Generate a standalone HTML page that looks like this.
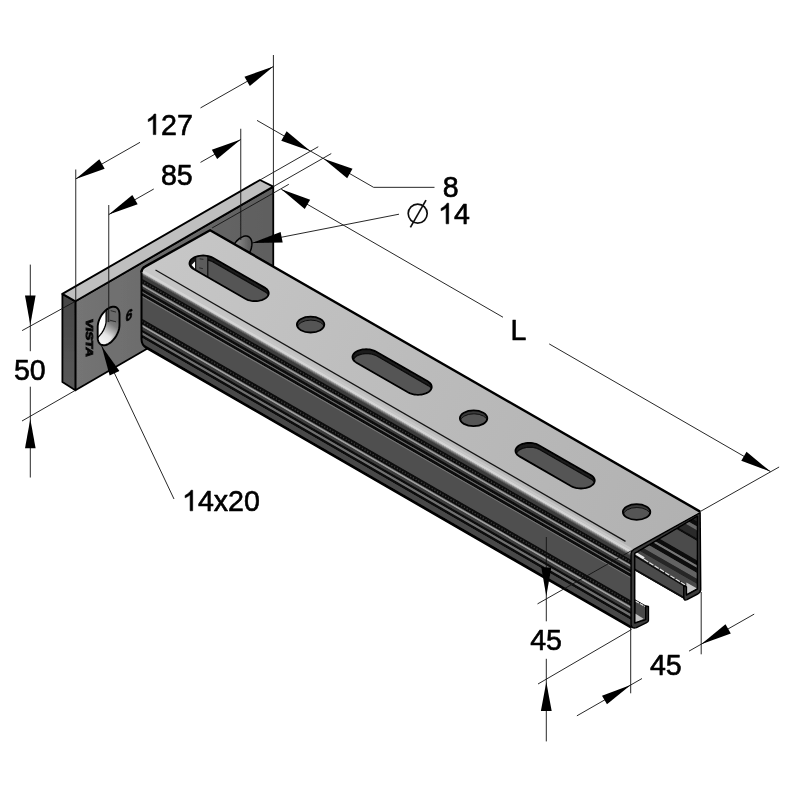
<!DOCTYPE html>
<html><head><meta charset="utf-8"><title>Bracket drawing</title>
<style>
html,body{margin:0;padding:0;background:#fff;}
body{width:800px;height:800px;overflow:hidden;}
svg{display:block;}
text{font-family:"Liberation Sans",sans-serif;fill:#000;}
.d{stroke:#000;stroke-width:0.6px;stroke-linejoin:round;}
</style></head><body>
<svg width="800" height="800" viewBox="0 0 800 800">
<rect width="800" height="800" fill="#fff"/>
<defs>
<linearGradient id="gPlateF" x1="0" y1="0" x2="1" y2="0"><stop offset="0" stop-color="#747474"/><stop offset="1" stop-color="#5e5e5e"/></linearGradient>
<linearGradient id="gPlateS" x1="0" y1="0" x2="0" y2="1"><stop offset="0" stop-color="#454545"/><stop offset="1" stop-color="#5a5a5a"/></linearGradient>
<linearGradient id="gTop" gradientUnits="userSpaceOnUse" x1="141" y1="270" x2="700" y2="512"><stop offset="0" stop-color="#c7c7c7"/><stop offset="0.5" stop-color="#bbbbbb"/><stop offset="1" stop-color="#b1b1b1"/></linearGradient>
<linearGradient id="gHole" x1="0" y1="0" x2="1" y2="1"><stop offset="0" stop-color="#ffffff"/><stop offset="0.45" stop-color="#d0d0d0"/><stop offset="1" stop-color="#4a4a4a"/></linearGradient>
<filter id="soft" x="0" y="0" width="800" height="800" filterUnits="userSpaceOnUse"><feGaussianBlur stdDeviation="0.45"/></filter></defs>
<g filter="url(#soft)">
<rect width="800" height="800" fill="#fff"/>
<polygon points="75.4,301.3 273.25,186.6 273.25,275.6 75.4,390.3" fill="url(#gPlateF)" stroke="#000" stroke-width="1.8" stroke-linejoin="round"/>
<polygon points="62.4,293.9 75.4,301.3 75.4,390.3 62.4,382.1" fill="url(#gPlateS)" stroke="#000" stroke-width="1.8" stroke-linejoin="round"/>
<polygon points="62.4,293.9 260,180 273.25,186.6 75.4,301.3" fill="#bfbfbf" stroke="#000" stroke-width="1.9" stroke-linejoin="round"/>
<linearGradient id="gH2" gradientUnits="userSpaceOnUse" x1="236" y1="240" x2="252" y2="240"><stop offset="0" stop-color="#8a8a8a"/><stop offset="1" stop-color="#565656"/></linearGradient>
<polygon points="230.09,256.27 230.19,254.59 230.47,252.83 230.92,251.03 231.56,249.2 232.35,247.39 233.29,245.62 234.36,243.93 235.55,242.35 236.83,240.89 238.18,239.59 239.58,238.47 241,237.54 242.42,236.83 243.82,236.34 245.17,236.09 246.45,236.07 247.64,236.3 248.71,236.75 249.65,237.44 250.44,238.34 251.08,239.44 251.53,240.72 251.81,242.16 251.91,243.73 251.91,243.73 251.81,245.41 251.53,247.17 251.08,248.97 250.44,250.8 249.65,252.61 248.71,254.38 247.64,256.07 246.45,257.65 245.17,259.11 243.82,260.41 242.42,261.53 241,262.46 239.58,263.17 238.18,263.66 236.83,263.91 235.55,263.93 234.36,263.7 233.29,263.25 232.35,262.56 231.56,261.66 230.92,260.56 230.47,259.28 230.19,257.84 230.09,256.27" fill="url(#gH2)" stroke="#000" stroke-width="1.5" />
<clipPath id="cH1"><polygon points="97.69,326.93 97.79,325.25 98.07,323.49 98.52,321.69 99.16,319.86 99.95,318.05 100.89,316.28 101.96,314.59 103.15,313.01 104.43,311.55 105.78,310.25 107.18,309.13 108.6,308.2 110.02,307.49 111.42,307 112.77,306.75 114.05,306.73 115.24,306.96 116.31,307.41 117.25,308.1 118.04,309 118.68,310.1 119.13,311.38 119.41,312.82 119.51,314.39 119.51,325.07 119.41,326.75 119.13,328.51 118.68,330.31 118.04,332.14 117.25,333.95 116.31,335.72 115.24,337.41 114.05,338.99 112.77,340.45 111.42,341.75 110.02,342.87 108.6,343.8 107.18,344.51 105.78,345 104.43,345.25 103.15,345.27 101.96,345.04 100.89,344.59 99.95,343.9 99.16,343 98.52,341.9 98.07,340.62 97.79,339.18 97.69,337.61"/></clipPath>
<g clip-path="url(#cH1)">
<linearGradient id="gWall" gradientUnits="userSpaceOnUse" x1="117" y1="320" x2="102" y2="341"><stop offset="0" stop-color="#6a6a6a"/><stop offset="0.25" stop-color="#7c7c7c"/><stop offset="0.7" stop-color="#e4e4e4"/><stop offset="1" stop-color="#f2f2f2"/></linearGradient>
<polygon points="97.69,326.93 97.79,325.25 98.07,323.49 98.52,321.69 99.16,319.86 99.95,318.05 100.89,316.28 101.96,314.59 103.15,313.01 104.43,311.55 105.78,310.25 107.18,309.13 108.6,308.2 110.02,307.49 111.42,307 112.77,306.75 114.05,306.73 115.24,306.96 116.31,307.41 117.25,308.1 118.04,309 118.68,310.1 119.13,311.38 119.41,312.82 119.51,314.39 119.51,325.07 119.41,326.75 119.13,328.51 118.68,330.31 118.04,332.14 117.25,333.95 116.31,335.72 115.24,337.41 114.05,338.99 112.77,340.45 111.42,341.75 110.02,342.87 108.6,343.8 107.18,344.51 105.78,345 104.43,345.25 103.15,345.27 101.96,345.04 100.89,344.59 99.95,343.9 99.16,343 98.52,341.9 98.07,340.62 97.79,339.18 97.69,337.61" fill="url(#gWall)" stroke="none" stroke-width="1" />
<linearGradient id="gWall2" gradientUnits="userSpaceOnUse" x1="104" y1="330" x2="119" y2="340"><stop offset="0" stop-color="#808080" stop-opacity="0"/><stop offset="0.55" stop-color="#808080" stop-opacity="0"/><stop offset="1" stop-color="#5c5c5c" stop-opacity="0.9"/></linearGradient>
<polygon points="97.69,326.93 97.79,325.25 98.07,323.49 98.52,321.69 99.16,319.86 99.95,318.05 100.89,316.28 101.96,314.59 103.15,313.01 104.43,311.55 105.78,310.25 107.18,309.13 108.6,308.2 110.02,307.49 111.42,307 112.77,306.75 114.05,306.73 115.24,306.96 116.31,307.41 117.25,308.1 118.04,309 118.68,310.1 119.13,311.38 119.41,312.82 119.51,314.39 119.51,325.07 119.41,326.75 119.13,328.51 118.68,330.31 118.04,332.14 117.25,333.95 116.31,335.72 115.24,337.41 114.05,338.99 112.77,340.45 111.42,341.75 110.02,342.87 108.6,343.8 107.18,344.51 105.78,345 104.43,345.25 103.15,345.27 101.96,345.04 100.89,344.59 99.95,343.9 99.16,343 98.52,341.9 98.07,340.62 97.79,339.18 97.69,337.61" fill="url(#gWall2)" stroke="none" stroke-width="1" />
<polygon points="107.8,300 125,300 125,320.5 107.8,322.2" fill="#6b6b6b" stroke="none" stroke-width="1" />
<line x1="108" y1="306" x2="108" y2="322" stroke="#3c3c3c" stroke-width="1.2" />
<line x1="110.6" y1="310.6" x2="116" y2="312.1" stroke="#222" stroke-width="0.9" />
<line x1="109.8" y1="320.2" x2="116" y2="321.8" stroke="#222" stroke-width="0.9" />
<polygon points="84.29,322.33 84.39,320.65 84.67,318.89 85.12,317.09 85.76,315.26 86.55,313.45 87.49,311.68 88.56,309.99 89.75,308.41 91.03,306.95 92.38,305.65 93.78,304.53 95.2,303.6 96.62,302.89 98.02,302.4 99.37,302.15 100.65,302.13 101.84,302.36 102.91,302.81 103.85,303.5 104.64,304.4 105.28,305.5 105.73,306.78 106.01,308.22 106.11,309.79 106.11,320.47 106.01,322.15 105.73,323.91 105.28,325.71 104.64,327.54 103.85,329.35 102.91,331.12 101.84,332.81 100.65,334.39 99.37,335.85 98.02,337.15 96.62,338.27 95.2,339.2 93.78,339.91 92.38,340.4 91.03,340.65 89.75,340.67 88.56,340.44 87.49,339.99 86.55,339.3 85.76,338.4 85.12,337.3 84.67,336.02 84.39,334.58 84.29,333.01" fill="#ffffff" stroke="#000" stroke-width="1.3" />
</g>
<polygon points="97.69,326.93 97.79,325.25 98.07,323.49 98.52,321.69 99.16,319.86 99.95,318.05 100.89,316.28 101.96,314.59 103.15,313.01 104.43,311.55 105.78,310.25 107.18,309.13 108.6,308.2 110.02,307.49 111.42,307 112.77,306.75 114.05,306.73 115.24,306.96 116.31,307.41 117.25,308.1 118.04,309 118.68,310.1 119.13,311.38 119.41,312.82 119.51,314.39 119.51,325.07 119.41,326.75 119.13,328.51 118.68,330.31 118.04,332.14 117.25,333.95 116.31,335.72 115.24,337.41 114.05,338.99 112.77,340.45 111.42,341.75 110.02,342.87 108.6,343.8 107.18,344.51 105.78,345 104.43,345.25 103.15,345.27 101.96,345.04 100.89,344.59 99.95,343.9 99.16,343 98.52,341.9 98.07,340.62 97.79,339.18 97.69,337.61" fill="none" stroke="#000" stroke-width="1.9" />
<g transform="matrix(0 1.0 -1.0 -0.15 86.0 318.5)"><text x="0" y="0" font-size="10" font-weight="bold" fill="#0a0a0a" stroke="#0a0a0a" stroke-width="0.9" textLength="38" lengthAdjust="spacingAndGlyphs">VISTA</text></g>
<g transform="matrix(0.866 -0.5 0 1 125.6 322)"><text x="0" y="0" font-size="14" font-weight="bold" font-style="italic" fill="#0a0a0a" stroke="#0a0a0a" stroke-width="0.7">6</text></g>
<clipPath id="cInt"><polygon points="634.7,552.8 697.5,516.2 697.5,590.5 685,599.5 634.7,570.58"/></clipPath>
<g clip-path="url(#cInt)">
<polygon points="634.7,552.8 697.5,516.2 697.5,590.5 685,599.5 634.7,570.58" fill="#3c3c3c" stroke="none" stroke-width="1" />
<polygon points="600,458.14 720,527.14 720,534.74 600,465.74" fill="#262626" stroke="none" stroke-width="1" />
<polygon points="600,465.74 720,534.74 720,539.74 600,470.74" fill="#0a0a0a" stroke="none" stroke-width="1" />
<polygon points="600,470.74 720,539.74 720,543.54 600,474.54" fill="#686868" stroke="none" stroke-width="1" />
<polygon points="600,474.54 720,543.54 720,551.64 600,482.64" fill="#2a2a2a" stroke="none" stroke-width="1" />
<polygon points="600,482.64 720,551.64 720,554.14 600,485.14" fill="#0a0a0a" stroke="none" stroke-width="1" />
<polygon points="600,485.14 720,554.14 720,573.54 600,504.54" fill="#4b4b4b" stroke="none" stroke-width="1" />
<polygon points="600,504.54 720,573.54 720,578.54 600,509.54" fill="#0a0a0a" stroke="none" stroke-width="1" />
<polygon points="600,509.54 720,578.54 720,581.04 600,512.04" fill="#787878" stroke="none" stroke-width="1" />
<polygon points="600,512.04 720,581.04 720,586.04 600,517.04" fill="#0c0c0c" stroke="none" stroke-width="1" />
<polygon points="600,517.04 720,586.04 720,592.14 600,523.14" fill="#646464" stroke="none" stroke-width="1" />
<polygon points="600,523.14 720,592.14 720,597.14 600,528.14" fill="#262626" stroke="none" stroke-width="1" />
<polygon points="600,528.14 720,597.14 720,603.64 600,534.64" fill="#4a4a4a" stroke="none" stroke-width="1" />
<polygon points="600,534.64 720,603.64 720,624.14 600,555.14" fill="#2a2a2a" stroke="none" stroke-width="1" />
<polygon points="630,553.08 685,586.5 685,599.5 630,567.88" fill="#4c4c4c" stroke="none" stroke-width="1" />
<line x1="630" y1="549.88" x2="644" y2="558.32" stroke="#e8e8e8" stroke-width="2.6" />
<line x1="644" y1="559.32" x2="685" y2="584.9" stroke="#dcdcdc" stroke-width="1.3" stroke-dasharray="5 1.2"/>
<line x1="630" y1="552.88" x2="685" y2="586.5" stroke="#0a0a0a" stroke-width="1.4" />
<polygon points="630,565.67 685,597.3 685,599.5 630,567.88" fill="#0a0a0a" stroke="none" stroke-width="1" />
</g>
<clipPath id="cSide"><path d="M141.5 268.6 L631.5 550 L631.5 628 L145.5 347.5 Q141.5 344.2 141.5 339.2 Z"/></clipPath>
<g clip-path="url(#cSide)">
<polygon points="141.5,267.64 631.5,549 631.5,630 141.5,347.16" fill="#4c4c4c" stroke="none" stroke-width="1" />
<polygon points="141.5,267.64 631.5,549 631.5,551.2 141.5,269.8" fill="#cecece" stroke="none" stroke-width="1" />
<polygon points="141.5,269.8 631.5,551.2 631.5,553.4 141.5,271.96" fill="#d6d6d6" stroke="none" stroke-width="1" />
<polygon points="141.5,271.96 631.5,553.4 631.5,554.4 141.5,272.94" fill="#b4b4b4" stroke="none" stroke-width="1" />
<polygon points="141.5,272.94 631.5,554.4 631.5,555.4 141.5,273.92" fill="#868686" stroke="none" stroke-width="1" />
<polygon points="141.5,273.92 631.5,555.4 631.5,556.4 141.5,274.9" fill="#5c5c5c" stroke="none" stroke-width="1" />
<polygon points="141.5,274.9 631.5,556.4 631.5,560 141.5,278.44" fill="#3c3c3c" stroke="none" stroke-width="1" />
<polygon points="141.5,278.44 631.5,560 631.5,565 141.5,283.35" fill="#080808" stroke="none" stroke-width="1" />
<polygon points="141.5,283.35 631.5,565 631.5,565.6 141.5,283.93" fill="#444444" stroke="none" stroke-width="1" />
<polygon points="141.5,283.93 631.5,565.6 631.5,567.6 141.5,285.9" fill="#9a9a9a" stroke="none" stroke-width="1" />
<polygon points="141.5,285.9 631.5,567.6 631.5,570 141.5,288.25" fill="#3a3a3a" stroke="none" stroke-width="1" />
<polygon points="141.5,288.25 631.5,570 631.5,573 141.5,291.2" fill="#0a0a0a" stroke="none" stroke-width="1" />
<polygon points="141.5,291.2 631.5,573 631.5,574.3 141.5,292.48" fill="#6a6a6a" stroke="none" stroke-width="1" />
<polygon points="141.5,292.48 631.5,574.3 631.5,577.4 141.5,295.52" fill="#080808" stroke="none" stroke-width="1" />
<polygon points="141.5,295.52 631.5,577.4 631.5,578.8 141.5,296.89" fill="#767676" stroke="none" stroke-width="1" />
<polygon points="141.5,296.89 631.5,578.8 631.5,600.7 141.5,318.4" fill="#505050" stroke="none" stroke-width="1" />
<polygon points="141.5,318.4 631.5,600.7 631.5,606.3 141.5,323.89" fill="#080808" stroke="none" stroke-width="1" />
<polygon points="141.5,323.89 631.5,606.3 631.5,607 141.5,324.58" fill="#444444" stroke="none" stroke-width="1" />
<polygon points="141.5,324.58 631.5,607 631.5,609 141.5,326.55" fill="#a0a0a0" stroke="none" stroke-width="1" />
<polygon points="141.5,326.55 631.5,609 631.5,611.9 141.5,329.39" fill="#3c3c3c" stroke="none" stroke-width="1" />
<polygon points="141.5,329.39 631.5,611.9 631.5,614.6 141.5,332.04" fill="#0a0a0a" stroke="none" stroke-width="1" />
<polygon points="141.5,332.04 631.5,614.6 631.5,617.2 141.5,334.6" fill="#707070" stroke="none" stroke-width="1" />
<polygon points="141.5,334.6 631.5,617.2 631.5,620.2 141.5,337.54" fill="#0a0a0a" stroke="none" stroke-width="1" />
<polygon points="141.5,337.54 631.5,620.2 631.5,626 141.5,343.24" fill="#4a4a4a" stroke="none" stroke-width="1" />
<polygon points="141.5,343.24 631.5,626 631.5,631 141.5,348.15" fill="#000" stroke="none" stroke-width="1" />
<line x1="141.5" y1="280.99" x2="631.5" y2="562.6" stroke="#3a3a3a" stroke-width="1.6" stroke-dasharray="1.4 1.7"/>
<line x1="141.5" y1="321.24" x2="631.5" y2="603.6" stroke="#3a3a3a" stroke-width="1.6" stroke-dasharray="1.4 1.7"/>
</g>
<path d="M141.5 270.6 L141.5 339.2 Q141.5 344.7 146.5 348.07 L631.5 628" fill="none" stroke="#000" stroke-width="2.0" stroke-linejoin="round"/>
<path d="M141.5 272.6 Q141.5 268.4 145.5 266.4 L210.1 230.2 L700.1 511.6 L631.5 551 Z" fill="url(#gTop)" stroke="none" stroke-width="1" />
<polygon points="141.5,269.1 631.5,550.5 631.5,553.2 141.5,271.8" fill="#d4d4d4" stroke="none" stroke-width="1" />
<polygon points="143.5,267.75 631.5,548 631.5,550.5 143.5,270.25" fill="#c6c6c6" stroke="none" stroke-width="1" />
<line x1="155.5" y1="269.94" x2="625.5" y2="541.35" stroke="#151515" stroke-width="1.3" />
<path d="M141.5 272.6 Q141.5 268.4 145.5 266.4 L210.1 230.2 L700.1 511.6" fill="none" stroke="#000" stroke-width="2.4" stroke-linejoin="round"/>
<clipPath id="cs1"><polygon points="212.9,257.82 211.55,257.14 210.06,256.57 208.45,256.11 206.75,255.78 204.99,255.58 203.2,255.51 201.41,255.58 199.65,255.78 197.95,256.11 196.34,256.57 194.85,257.14 193.5,257.82 192.32,258.6 191.32,259.46 190.53,260.38 189.95,261.36 189.6,262.37 189.48,263.4 189.6,264.43 189.95,265.44 190.53,266.42 191.32,267.34 192.32,268.2 193.5,268.98 245.3,298.78 246.65,299.46 248.14,300.03 249.75,300.49 251.45,300.82 253.21,301.02 255,301.09 256.79,301.02 258.55,300.82 260.25,300.49 261.86,300.03 263.35,299.46 264.7,298.78 265.88,298 266.88,297.14 267.67,296.22 268.25,295.24 268.6,294.23 268.72,293.2 268.6,292.17 268.25,291.16 267.67,290.18 266.88,289.26 265.88,288.4 264.7,287.62"/></clipPath>
<polygon points="212.9,257.82 211.55,257.14 210.06,256.57 208.45,256.11 206.75,255.78 204.99,255.58 203.2,255.51 201.41,255.58 199.65,255.78 197.95,256.11 196.34,256.57 194.85,257.14 193.5,257.82 192.32,258.6 191.32,259.46 190.53,260.38 189.95,261.36 189.6,262.37 189.48,263.4 189.6,264.43 189.95,265.44 190.53,266.42 191.32,267.34 192.32,268.2 193.5,268.98 245.3,298.78 246.65,299.46 248.14,300.03 249.75,300.49 251.45,300.82 253.21,301.02 255,301.09 256.79,301.02 258.55,300.82 260.25,300.49 261.86,300.03 263.35,299.46 264.7,298.78 265.88,298 266.88,297.14 267.67,296.22 268.25,295.24 268.6,294.23 268.72,293.2 268.6,292.17 268.25,291.16 267.67,290.18 266.88,289.26 265.88,288.4 264.7,287.62" fill="#555555" stroke="none" stroke-width="1" />
<g clip-path="url(#cs1)">
<polygon points="212.9,257.82 211.55,257.14 210.06,256.57 208.45,256.11 206.75,255.78 204.99,255.58 203.2,255.51 201.41,255.58 199.65,255.78 197.95,256.11 196.34,256.57 194.85,257.14 193.5,257.82 192.32,258.6 191.32,259.46 190.53,260.38 189.95,261.36 189.6,262.37 189.48,263.4 189.6,264.43 189.95,265.44 190.53,266.42 191.32,267.34 192.32,268.2 193.5,268.98 245.3,298.78 246.65,299.46 248.14,300.03 249.75,300.49 251.45,300.82 253.21,301.02 255,301.09 256.79,301.02 258.55,300.82 260.25,300.49 261.86,300.03 263.35,299.46 264.7,298.78 265.88,298 266.88,297.14 267.67,296.22 268.25,295.24 268.6,294.23 268.72,293.2 268.6,292.17 268.25,291.16 267.67,290.18 266.88,289.26 265.88,288.4 264.7,287.62" fill="#1c1c1c" stroke="none" stroke-width="1" />
<polygon points="213.5,262.12 212.15,261.44 210.66,260.87 209.05,260.41 207.35,260.08 205.59,259.88 203.8,259.81 202.01,259.88 200.25,260.08 198.55,260.41 196.94,260.87 195.45,261.44 194.1,262.12 192.92,262.9 191.92,263.76 191.13,264.68 190.55,265.66 190.2,266.67 190.08,267.7 190.2,268.73 190.55,269.74 191.13,270.72 191.92,271.64 192.92,272.5 194.1,273.28 245.9,303.08 247.25,303.76 248.74,304.33 250.35,304.79 252.05,305.12 253.81,305.32 255.6,305.39 257.39,305.32 259.15,305.12 260.85,304.79 262.46,304.33 263.95,303.76 265.3,303.08 266.48,302.3 267.48,301.44 268.27,300.52 268.85,299.54 269.2,298.53 269.32,297.5 269.2,296.47 268.85,295.46 268.27,294.48 267.48,293.56 266.48,292.7 265.3,291.92" fill="#555555" stroke="#0a0a0a" stroke-width="1.2" />
<polygon points="185.2,251.4 195.7,251.4 195.7,273.4 185.2,273.4" fill="#181818" stroke="none" stroke-width="1" />
<polygon points="191.6,265 195.2,261.2 195.2,269" fill="#fff" stroke="none" stroke-width="1" />
<polygon points="195.7,253.4 207.8,250.4 207.8,277.4 195.7,269.9" fill="#5c5c5c" stroke="#0a0a0a" stroke-width="1.1" />
<line x1="199.7" y1="258.8" x2="203.4" y2="259.4" stroke="#222" stroke-width="0.9" />
<line x1="199.2" y1="267.8" x2="202.8" y2="268.6" stroke="#222" stroke-width="0.9" />
</g>
<polygon points="212.9,257.82 211.55,257.14 210.06,256.57 208.45,256.11 206.75,255.78 204.99,255.58 203.2,255.51 201.41,255.58 199.65,255.78 197.95,256.11 196.34,256.57 194.85,257.14 193.5,257.82 192.32,258.6 191.32,259.46 190.53,260.38 189.95,261.36 189.6,262.37 189.48,263.4 189.6,264.43 189.95,265.44 190.53,266.42 191.32,267.34 192.32,268.2 193.5,268.98 245.3,298.78 246.65,299.46 248.14,300.03 249.75,300.49 251.45,300.82 253.21,301.02 255,301.09 256.79,301.02 258.55,300.82 260.25,300.49 261.86,300.03 263.35,299.46 264.7,298.78 265.88,298 266.88,297.14 267.67,296.22 268.25,295.24 268.6,294.23 268.72,293.2 268.6,292.17 268.25,291.16 267.67,290.18 266.88,289.26 265.88,288.4 264.7,287.62" fill="none" stroke="#000" stroke-width="1.8" />
<clipPath id="cs2"><ellipse cx="310.6" cy="324.6" rx="13.72" ry="7.89"/></clipPath>
<ellipse cx="310.6" cy="324.6" rx="13.72" ry="7.89" fill="#3a3a3a"/>
<g clip-path="url(#cs2)"><ellipse cx="310.9" cy="328" rx="13.72" ry="7.89" fill="#555" stroke="#111" stroke-width="1"/></g>
<ellipse cx="310.6" cy="324.6" rx="13.72" ry="7.89" fill="none" stroke="#000" stroke-width="1.8"/>
<clipPath id="cs3"><polygon points="375.9,351.52 374.55,350.84 373.06,350.27 371.45,349.81 369.75,349.48 367.99,349.28 366.2,349.21 364.41,349.28 362.65,349.48 360.95,349.81 359.34,350.27 357.85,350.84 356.5,351.52 355.32,352.3 354.32,353.16 353.53,354.08 352.95,355.06 352.6,356.07 352.48,357.1 352.6,358.13 352.95,359.14 353.53,360.12 354.32,361.04 355.32,361.9 356.5,362.68 408.3,392.48 409.65,393.16 411.14,393.73 412.75,394.19 414.45,394.52 416.21,394.72 418,394.79 419.79,394.72 421.55,394.52 423.25,394.19 424.86,393.73 426.35,393.16 427.7,392.48 428.88,391.7 429.88,390.84 430.67,389.92 431.25,388.94 431.6,387.93 431.72,386.9 431.6,385.87 431.25,384.86 430.67,383.88 429.88,382.96 428.88,382.1 427.7,381.32"/></clipPath>
<polygon points="375.9,351.52 374.55,350.84 373.06,350.27 371.45,349.81 369.75,349.48 367.99,349.28 366.2,349.21 364.41,349.28 362.65,349.48 360.95,349.81 359.34,350.27 357.85,350.84 356.5,351.52 355.32,352.3 354.32,353.16 353.53,354.08 352.95,355.06 352.6,356.07 352.48,357.1 352.6,358.13 352.95,359.14 353.53,360.12 354.32,361.04 355.32,361.9 356.5,362.68 408.3,392.48 409.65,393.16 411.14,393.73 412.75,394.19 414.45,394.52 416.21,394.72 418,394.79 419.79,394.72 421.55,394.52 423.25,394.19 424.86,393.73 426.35,393.16 427.7,392.48 428.88,391.7 429.88,390.84 430.67,389.92 431.25,388.94 431.6,387.93 431.72,386.9 431.6,385.87 431.25,384.86 430.67,383.88 429.88,382.96 428.88,382.1 427.7,381.32" fill="#555555" stroke="none" stroke-width="1" />
<g clip-path="url(#cs3)">
<polygon points="375.9,351.52 374.55,350.84 373.06,350.27 371.45,349.81 369.75,349.48 367.99,349.28 366.2,349.21 364.41,349.28 362.65,349.48 360.95,349.81 359.34,350.27 357.85,350.84 356.5,351.52 355.32,352.3 354.32,353.16 353.53,354.08 352.95,355.06 352.6,356.07 352.48,357.1 352.6,358.13 352.95,359.14 353.53,360.12 354.32,361.04 355.32,361.9 356.5,362.68 408.3,392.48 409.65,393.16 411.14,393.73 412.75,394.19 414.45,394.52 416.21,394.72 418,394.79 419.79,394.72 421.55,394.52 423.25,394.19 424.86,393.73 426.35,393.16 427.7,392.48 428.88,391.7 429.88,390.84 430.67,389.92 431.25,388.94 431.6,387.93 431.72,386.9 431.6,385.87 431.25,384.86 430.67,383.88 429.88,382.96 428.88,382.1 427.7,381.32" fill="#1c1c1c" stroke="none" stroke-width="1" />
<polygon points="376.5,355.82 375.15,355.14 373.66,354.57 372.05,354.11 370.35,353.78 368.59,353.58 366.8,353.51 365.01,353.58 363.25,353.78 361.55,354.11 359.94,354.57 358.45,355.14 357.1,355.82 355.92,356.6 354.92,357.46 354.13,358.38 353.55,359.36 353.2,360.37 353.08,361.4 353.2,362.43 353.55,363.44 354.13,364.42 354.92,365.34 355.92,366.2 357.1,366.98 408.9,396.78 410.25,397.46 411.74,398.03 413.35,398.49 415.05,398.82 416.81,399.02 418.6,399.09 420.39,399.02 422.15,398.82 423.85,398.49 425.46,398.03 426.95,397.46 428.3,396.78 429.48,396 430.48,395.14 431.27,394.22 431.85,393.24 432.2,392.23 432.32,391.2 432.2,390.17 431.85,389.16 431.27,388.18 430.48,387.26 429.48,386.4 428.3,385.62" fill="#555555" stroke="#0a0a0a" stroke-width="1.2" />
</g>
<polygon points="375.9,351.52 374.55,350.84 373.06,350.27 371.45,349.81 369.75,349.48 367.99,349.28 366.2,349.21 364.41,349.28 362.65,349.48 360.95,349.81 359.34,350.27 357.85,350.84 356.5,351.52 355.32,352.3 354.32,353.16 353.53,354.08 352.95,355.06 352.6,356.07 352.48,357.1 352.6,358.13 352.95,359.14 353.53,360.12 354.32,361.04 355.32,361.9 356.5,362.68 408.3,392.48 409.65,393.16 411.14,393.73 412.75,394.19 414.45,394.52 416.21,394.72 418,394.79 419.79,394.72 421.55,394.52 423.25,394.19 424.86,393.73 426.35,393.16 427.7,392.48 428.88,391.7 429.88,390.84 430.67,389.92 431.25,388.94 431.6,387.93 431.72,386.9 431.6,385.87 431.25,384.86 430.67,383.88 429.88,382.96 428.88,382.1 427.7,381.32" fill="none" stroke="#000" stroke-width="1.8" />
<clipPath id="cs4"><ellipse cx="473.6" cy="418.3" rx="13.72" ry="7.89"/></clipPath>
<ellipse cx="473.6" cy="418.3" rx="13.72" ry="7.89" fill="#3a3a3a"/>
<g clip-path="url(#cs4)"><ellipse cx="473.9" cy="421.7" rx="13.72" ry="7.89" fill="#555" stroke="#111" stroke-width="1"/></g>
<ellipse cx="473.6" cy="418.3" rx="13.72" ry="7.89" fill="none" stroke="#000" stroke-width="1.8"/>
<clipPath id="cs5"><polygon points="538.9,445.22 537.55,444.54 536.06,443.97 534.45,443.51 532.75,443.18 530.99,442.98 529.2,442.91 527.41,442.98 525.65,443.18 523.95,443.51 522.34,443.97 520.85,444.54 519.5,445.22 518.32,446 517.32,446.86 516.53,447.78 515.95,448.76 515.6,449.77 515.48,450.8 515.6,451.83 515.95,452.84 516.53,453.82 517.32,454.74 518.32,455.6 519.5,456.38 571.3,486.18 572.65,486.86 574.14,487.43 575.75,487.89 577.45,488.22 579.21,488.42 581,488.49 582.79,488.42 584.55,488.22 586.25,487.89 587.86,487.43 589.35,486.86 590.7,486.18 591.88,485.4 592.88,484.54 593.67,483.62 594.25,482.64 594.6,481.63 594.72,480.6 594.6,479.57 594.25,478.56 593.67,477.58 592.88,476.66 591.88,475.8 590.7,475.02"/></clipPath>
<polygon points="538.9,445.22 537.55,444.54 536.06,443.97 534.45,443.51 532.75,443.18 530.99,442.98 529.2,442.91 527.41,442.98 525.65,443.18 523.95,443.51 522.34,443.97 520.85,444.54 519.5,445.22 518.32,446 517.32,446.86 516.53,447.78 515.95,448.76 515.6,449.77 515.48,450.8 515.6,451.83 515.95,452.84 516.53,453.82 517.32,454.74 518.32,455.6 519.5,456.38 571.3,486.18 572.65,486.86 574.14,487.43 575.75,487.89 577.45,488.22 579.21,488.42 581,488.49 582.79,488.42 584.55,488.22 586.25,487.89 587.86,487.43 589.35,486.86 590.7,486.18 591.88,485.4 592.88,484.54 593.67,483.62 594.25,482.64 594.6,481.63 594.72,480.6 594.6,479.57 594.25,478.56 593.67,477.58 592.88,476.66 591.88,475.8 590.7,475.02" fill="#555555" stroke="none" stroke-width="1" />
<g clip-path="url(#cs5)">
<polygon points="538.9,445.22 537.55,444.54 536.06,443.97 534.45,443.51 532.75,443.18 530.99,442.98 529.2,442.91 527.41,442.98 525.65,443.18 523.95,443.51 522.34,443.97 520.85,444.54 519.5,445.22 518.32,446 517.32,446.86 516.53,447.78 515.95,448.76 515.6,449.77 515.48,450.8 515.6,451.83 515.95,452.84 516.53,453.82 517.32,454.74 518.32,455.6 519.5,456.38 571.3,486.18 572.65,486.86 574.14,487.43 575.75,487.89 577.45,488.22 579.21,488.42 581,488.49 582.79,488.42 584.55,488.22 586.25,487.89 587.86,487.43 589.35,486.86 590.7,486.18 591.88,485.4 592.88,484.54 593.67,483.62 594.25,482.64 594.6,481.63 594.72,480.6 594.6,479.57 594.25,478.56 593.67,477.58 592.88,476.66 591.88,475.8 590.7,475.02" fill="#1c1c1c" stroke="none" stroke-width="1" />
<polygon points="539.5,449.52 538.15,448.84 536.66,448.27 535.05,447.81 533.35,447.48 531.59,447.28 529.8,447.21 528.01,447.28 526.25,447.48 524.55,447.81 522.94,448.27 521.45,448.84 520.1,449.52 518.92,450.3 517.92,451.16 517.13,452.08 516.55,453.06 516.2,454.07 516.08,455.1 516.2,456.13 516.55,457.14 517.13,458.12 517.92,459.04 518.92,459.9 520.1,460.68 571.9,490.48 573.25,491.16 574.74,491.73 576.35,492.19 578.05,492.52 579.81,492.72 581.6,492.79 583.39,492.72 585.15,492.52 586.85,492.19 588.46,491.73 589.95,491.16 591.3,490.48 592.48,489.7 593.48,488.84 594.27,487.92 594.85,486.94 595.2,485.93 595.32,484.9 595.2,483.87 594.85,482.86 594.27,481.88 593.48,480.96 592.48,480.1 591.3,479.32" fill="#555555" stroke="#0a0a0a" stroke-width="1.2" />
</g>
<polygon points="538.9,445.22 537.55,444.54 536.06,443.97 534.45,443.51 532.75,443.18 530.99,442.98 529.2,442.91 527.41,442.98 525.65,443.18 523.95,443.51 522.34,443.97 520.85,444.54 519.5,445.22 518.32,446 517.32,446.86 516.53,447.78 515.95,448.76 515.6,449.77 515.48,450.8 515.6,451.83 515.95,452.84 516.53,453.82 517.32,454.74 518.32,455.6 519.5,456.38 571.3,486.18 572.65,486.86 574.14,487.43 575.75,487.89 577.45,488.22 579.21,488.42 581,488.49 582.79,488.42 584.55,488.22 586.25,487.89 587.86,487.43 589.35,486.86 590.7,486.18 591.88,485.4 592.88,484.54 593.67,483.62 594.25,482.64 594.6,481.63 594.72,480.6 594.6,479.57 594.25,478.56 593.67,477.58 592.88,476.66 591.88,475.8 590.7,475.02" fill="none" stroke="#000" stroke-width="1.8" />
<clipPath id="cs6"><ellipse cx="636.6" cy="512" rx="13.72" ry="7.89"/></clipPath>
<ellipse cx="636.6" cy="512" rx="13.72" ry="7.89" fill="#3a3a3a"/>
<g clip-path="url(#cs6)"><ellipse cx="636.9" cy="515.4" rx="13.72" ry="7.89" fill="#555" stroke="#111" stroke-width="1"/></g>
<ellipse cx="636.6" cy="512" rx="13.72" ry="7.89" fill="none" stroke="#000" stroke-width="1.8"/>
<polygon points="634.9,599.8 646.2,606.2 646.2,620 634.9,622.5" fill="#484848" stroke="#000" stroke-width="1.0" />
<line x1="635.4" y1="600.9" x2="645.8" y2="606.9" stroke="#e0e0e0" stroke-width="1.1" stroke-dasharray="4 1.2"/>
<polygon points="635.2,613.6 643.6,618.8 635.2,622.8" fill="#c4c4c4" stroke="none" stroke-width="1" />
<polygon points="686.4,582.6 697.2,588.4 686.4,594.6" fill="#c8c8c8" stroke="none" stroke-width="1" />
<path d="M700.1 512.6 L700.7 589.6 Q700.7 592.4 697.6 594 L687 599.6 Q683.8 601 683.8 597.6 L683.8 585.8 L686.4 587 L686.4 595 L697.4 589 L697.5 516.2 L634.7 553.4 L634.7 623 L645.8 619.6 L645.8 606 L648.4 606.6 L648.4 620.6 Q648.4 621.8 646.6 622.6 L636.4 627.6 Q631.5 629.2 631.1 624.5 L631.1 553 Q631.1 551 634 549.4 Z" fill="#3a3a3a" stroke="#000" stroke-width="1.5" stroke-linejoin="round"/>
<line x1="75.75" y1="169.5" x2="75.75" y2="300" stroke="#151515" stroke-width="0.92" />
<line x1="273.4" y1="55" x2="273.4" y2="187" stroke="#151515" stroke-width="0.92" />
<line x1="75.75" y1="178.9" x2="140" y2="142.34" stroke="#151515" stroke-width="0.92" />
<line x1="200.5" y1="107.92" x2="273.4" y2="66.44" stroke="#151515" stroke-width="0.92" />
<polygon points="75.75,178.9 104.67,168.66 99.33,159.27" fill="#000" stroke="none" stroke-width="1" />
<polygon points="273.4,66.44 244.48,76.68 249.82,86.07" fill="#000" stroke="none" stroke-width="1" />
<path class="d" d="M155.8 134.6 L153.29 134.6 L153.29 118.58 Q152.38 119.45 150.91 120.31 Q149.43 121.18 148.26 121.61 L148.26 119.18 Q150.37 118.19 151.95 116.78 Q153.53 115.37 154.18 114.04 L155.8 114.04 Z" fill="#000"/>
<text class="d" x="161.05" y="134.6" font-size="28.6">2</text>
<text class="d" x="176.95" y="134.6" font-size="28.6">7</text>
<line x1="108.75" y1="205" x2="108.75" y2="322" stroke="#151515" stroke-width="0.92" />
<line x1="240.75" y1="128.75" x2="240.75" y2="240" stroke="#151515" stroke-width="0.92" />
<line x1="108.75" y1="214.6" x2="153.75" y2="189" stroke="#151515" stroke-width="0.92" />
<line x1="200.5" y1="162.39" x2="240.75" y2="139.49" stroke="#151515" stroke-width="0.92" />
<polygon points="108.75,214.6 137.67,204.36 132.33,194.97" fill="#000" stroke="none" stroke-width="1" />
<polygon points="240.75,139.49 211.83,149.73 217.17,159.12" fill="#000" stroke="none" stroke-width="1" />
<text class="d" x="160.9" y="184.6" font-size="28.6">8</text>
<text class="d" x="176.8" y="184.6" font-size="28.6">5</text>
<line x1="257" y1="120.4" x2="373.6" y2="187.33" stroke="#151515" stroke-width="0.92" />
<line x1="373.6" y1="187.33" x2="434.5" y2="187.33" stroke="#151515" stroke-width="0.92" />
<polygon points="310.2,150.94 286.61,131.33 281.27,140.72" fill="#000" stroke="none" stroke-width="1" />
<polygon points="323.6,158.63 347.19,178.24 352.53,168.85" fill="#000" stroke="none" stroke-width="1" />
<line x1="260" y1="180" x2="318.25" y2="146.74" stroke="#151515" stroke-width="0.92" />
<line x1="273.4" y1="186.6" x2="331.25" y2="153.57" stroke="#151515" stroke-width="0.92" />
<text class="d" x="442.85" y="196.7" font-size="28.6">8</text>
<line x1="252" y1="243" x2="399" y2="214.2" stroke="#151515" stroke-width="0.92" />
<polygon points="252,243 282.67,242.49 280.6,231.89" fill="#000" stroke="none" stroke-width="1" />
<circle cx="417.7" cy="213.6" r="9.5" fill="none" stroke="#111" stroke-width="1.7"/>
<line x1="410.4" y1="227.4" x2="426" y2="200.2" stroke="#111" stroke-width="1.7" />
<path class="d" d="M448.66 223.8 L446.14 223.8 L446.14 207.78 Q445.23 208.65 443.76 209.51 Q442.29 210.38 441.11 210.81 L441.11 208.38 Q443.22 207.39 444.8 205.98 Q446.38 204.57 447.04 203.24 L448.66 203.24 Z" fill="#000"/>
<text class="d" x="453.9" y="223.8" font-size="28.6">4</text>
<line x1="212.1" y1="228" x2="288.8" y2="184.3" stroke="#151515" stroke-width="0.92" />
<line x1="281.3" y1="189.3" x2="503" y2="317.24" stroke="#151515" stroke-width="0.92" />
<line x1="549.2" y1="343.91" x2="770.5" y2="471.62" stroke="#151515" stroke-width="0.92" />
<polygon points="281.3,189.3 304.76,209.07 310.16,199.72" fill="#000" stroke="none" stroke-width="1" />
<polygon points="770.5,471.62 746.53,451.73 741.29,460.82" fill="#000" stroke="none" stroke-width="1" />
<line x1="700.1" y1="511.6" x2="779.1" y2="467" stroke="#151515" stroke-width="0.92" />
<text class="d" x="510.55" y="340" font-size="28.6">L</text>
<line x1="30.3" y1="264.6" x2="30.3" y2="351.2" stroke="#151515" stroke-width="0.92" />
<line x1="30.3" y1="386.7" x2="30.3" y2="477.5" stroke="#151515" stroke-width="0.92" />
<polygon points="30.3,325 35.6,295.4 25,295.4" fill="#000" stroke="none" stroke-width="1" />
<polygon points="30.3,419 25,448.2 35.6,448.2" fill="#000" stroke="none" stroke-width="1" />
<line x1="22.1" y1="330.6" x2="75.4" y2="301.3" stroke="#151515" stroke-width="0.92" />
<line x1="22" y1="421" x2="75.4" y2="390.3" stroke="#151515" stroke-width="0.92" />
<text class="d" x="13.9" y="379.6" font-size="28.6">5</text>
<text class="d" x="29.8" y="379.6" font-size="28.6">0</text>
<line x1="101.6" y1="346" x2="174" y2="499" stroke="#151515" stroke-width="0.92" />
<polygon points="101.6,346 109.64,375.61 119.4,370.99" fill="#000" stroke="none" stroke-width="1" />
<path class="d" d="M192.66 510.8 L190.14 510.8 L190.14 494.78 Q189.23 495.65 187.76 496.51 Q186.29 497.38 185.11 497.81 L185.11 495.38 Q187.22 494.39 188.8 492.98 Q190.38 491.57 191.04 490.24 L192.66 490.24 Z" fill="#000"/>
<text class="d" x="197.9" y="510.8" font-size="28.6">4</text>
<text class="d" x="213.8" y="510.8" font-size="28.6">x</text>
<text class="d" x="228.1" y="510.8" font-size="28.6">2</text>
<text class="d" x="244" y="510.8" font-size="28.6">0</text>
<line x1="546.3" y1="537" x2="546.3" y2="621.3" stroke="#151515" stroke-width="0.92" />
<line x1="546.3" y1="658.8" x2="546.3" y2="741.4" stroke="#151515" stroke-width="0.92" />
<polygon points="546.3,596.3 551.3,567.5 541.3,567.5" fill="#000" stroke="none" stroke-width="1" />
<polygon points="546.3,682 540.9,710.9 551.7,710.9" fill="#000" stroke="none" stroke-width="1" />
<line x1="537.5" y1="603.9" x2="631.5" y2="550.6" stroke="#151515" stroke-width="0.92" />
<line x1="538" y1="684" x2="631.5" y2="629.5" stroke="#151515" stroke-width="0.92" />
<text class="d" x="530.2" y="649.8" font-size="28.6">4</text>
<text class="d" x="546.1" y="649.8" font-size="28.6">5</text>
<line x1="630.7" y1="627.5" x2="630.7" y2="693.3" stroke="#151515" stroke-width="0.92" />
<line x1="701.2" y1="592" x2="701.2" y2="654.3" stroke="#151515" stroke-width="0.92" />
<line x1="576.9" y1="715.83" x2="642" y2="678.53" stroke="#151515" stroke-width="0.92" />
<line x1="689" y1="651.13" x2="754.2" y2="614.1" stroke="#151515" stroke-width="0.92" />
<polygon points="630.7,685 602.01,695.68 606.98,704.35" fill="#000" stroke="none" stroke-width="1" />
<polygon points="701.2,644.2 730.82,633.58 725.49,624.19" fill="#000" stroke="none" stroke-width="1" />
<text class="d" x="649.9" y="674.6" font-size="28.6">4</text>
<text class="d" x="665.8" y="674.6" font-size="28.6">5</text>
</g>
</svg>
</body></html>
